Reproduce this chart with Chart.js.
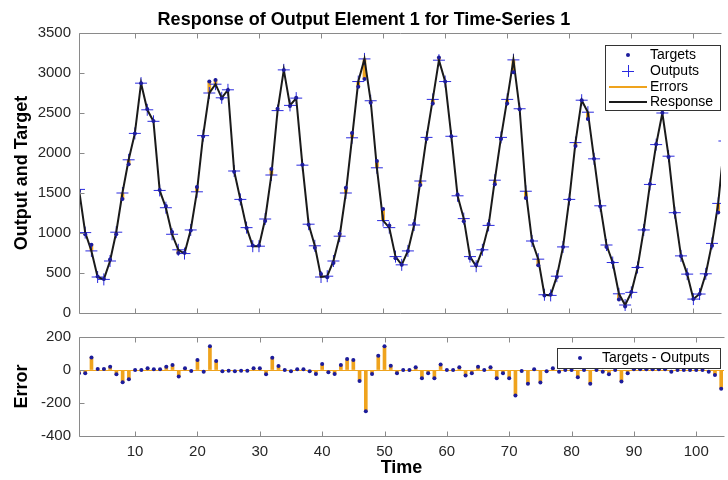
<!DOCTYPE html>
<html>
<head>
<meta charset="utf-8">
<script src="https://cdn.jsdelivr.net/npm/chart.js@4.4.0/dist/chart.umd.min.js"></script>
<style>
html,body{margin:0;padding:0;background:#fff;}
#wrap{position:relative;width:728px;height:480px;overflow:hidden;background:#fff;}
#c1{position:absolute;left:0;top:0;}
#c2{position:absolute;left:0;top:320px;}
</style>
</head>
<body>
<div id="wrap">
<canvas id="c1" width="728" height="330"></canvas>
<canvas id="c2" width="728" height="160"></canvas>
</div>
<script>
const timeSteps = [1,2,3,4,5,6,7,8,9,10,11,12,13,14,15,16,17,18,19,20,21,22,23,24,25,26,27,28,29,30,31,32,33,34,35,36,37,38,39,40,41,42,43,44,45,46,47,48,49,50,51,52,53,54,55,56,57,58,59,60,61,62,63,64,65,66,67,68,69,70,71,72,73,74,75,76,77,78,79,80,81,82,83,84,85,86,87,88,89,90,91,92,93,94,95,96,97,98,99,100,101,102,103,104,105];
const outputs = [1545,1005,776,450,420,650,1010,1500,1915,2245,2873,2540,2396,1532,1316,984,790,743,1038,1515,2217,2750,2860,2690,2790,1775,1420,1067,835,835,1175,1725,2530,3039,2595,2686,1848,1110,840,450,460,650,960,1500,2190,2893,3176,2653,1815,1155,1067,705,602,776,1100,1650,2195,2670,3160,2893,2209,1465,1180,705,585,790,1095,1660,2195,2670,3164,2553,1522,900,673,228,220,460,826,1420,2130,2660,2510,1927,1340,850,631,240,100,258,569,1038,1607,2105,2500,1960,1254,714,486,174,237,490,870,1370,2150];
const targets = [1525,985,852,456,426,670,984,1426,1859,2245,2873,2550,2400,1536,1336,1014,750,753,1032,1575,2207,2894,2914,2682,2786,1767,1416,1063,845,845,1149,1799,2554,3039,2587,2690,1852,1102,816,486,446,626,990,1566,2250,2827,2926,2629,1901,1299,1093,685,602,776,1116,1600,2175,2620,3194,2893,2209,1481,1146,685,605,790,1111,1610,2175,2620,3010,2547,1438,904,597,220,230,450,826,1420,2086,2660,2426,1927,1330,824,631,170,80,262,573,1042,1611,2109,2504,1950,1254,714,486,174,237,480,840,1256,2150];
const errors = [-20,-20,76,6,6,20,-26,-74,-56,0,0,10,4,4,20,30,-40,10,-6,60,-10,144,54,-8,-4,-8,-4,-4,10,10,-26,74,24,0,-8,4,4,-8,-24,36,-14,-24,30,66,60,-66,-250,-24,86,144,26,-20,0,0,16,-50,-20,-50,34,0,0,16,-34,-20,20,0,16,-50,-20,-50,-154,-6,-84,4,-76,-8,10,-10,0,0,-44,0,-84,0,-10,-26,0,-70,-20,4,4,4,4,4,4,-10,0,0,0,0,0,-10,-30,-114,0];
const xTickValues = [10,20,30,40,50,60,70,80,90,100];
const topYTicks = [0,500,1000,1500,2000,2500,3000,3500];
const bottomYTicks = [-400,-200,0,200];

const FONT = "'Liberation Sans', Arial, Helvetica, sans-serif";
const DOT_BLUE = '#1c1c9c';
const PLUS_BLUE = '#2a2ae0';
const ORANGE = '#efa31d';
const LINE_BLACK = '#1a1a1a';
const BOX_GRAY = '#8a8a8a';
const TICK_TEXT = '#262626';

const matlabBox = {
  id: 'matlabBox',
  afterDraw(chart, args, opts) {
    const {ctx, chartArea: a, scales} = chart;
    ctx.save();
    ctx.strokeStyle = opts.color;
    ctx.lineWidth = 1;
    const L = Math.round(a.left) + 0.5, T = Math.round(a.top) + 0.5;
    const B = Math.round(a.bottom) + 0.5, R = Math.round(a.right) + 0.5;
    ctx.beginPath();
    ctx.moveTo(L, B); ctx.lineTo(L, T); ctx.lineTo(R, T);
    ctx.moveTo(L, B); ctx.lineTo(R, B);
    opts.xTicks.forEach(v => {
      const px = Math.round(scales.x.getPixelForValue(v)) + 0.5;
      ctx.moveTo(px, T); ctx.lineTo(px, T + 5);
      ctx.moveTo(px, B); ctx.lineTo(px, B - 5);
    });
    opts.yTicks.forEach(v => {
      const py = Math.round(scales.y.getPixelForValue(v)) + 0.5;
      ctx.moveTo(L, py); ctx.lineTo(L + 5, py);
    });
    ctx.stroke();
    ctx.restore();
  }
};

const boxLegend = {
  id: 'boxLegend',
  afterDraw(chart, args, opts) {
    const ctx = chart.ctx;
    ctx.save();
    ctx.fillStyle = '#fff';
    ctx.fillRect(opts.x, opts.y, opts.w, opts.h);
    ctx.strokeStyle = '#333';
    ctx.lineWidth = 1;
    ctx.strokeRect(opts.x + 0.5, opts.y + 0.5, opts.w, opts.h);
    ctx.font = '14px ' + FONT;
    ctx.textBaseline = 'middle';
    ctx.textAlign = 'left';
    opts.items.forEach(it => {
      const ds = chart.data.datasets[it.ds];
      if (it.kind === 'dot') {
        ctx.fillStyle = DOT_BLUE;
        ctx.beginPath(); ctx.arc(it.mx, it.y, 2, 0, Math.PI * 2); ctx.fill();
      } else if (it.kind === 'plus') {
        ctx.strokeStyle = PLUS_BLUE; ctx.lineWidth = 1;
        ctx.beginPath();
        ctx.moveTo(it.mx - 6, it.y + 0.5); ctx.lineTo(it.mx + 6, it.y + 0.5);
        ctx.moveTo(it.mx + 0.5, it.y - 6); ctx.lineTo(it.mx + 0.5, it.y + 6);
        ctx.stroke();
      } else if (it.kind === 'line') {
        ctx.strokeStyle = it.color; ctx.lineWidth = 2;
        ctx.beginPath(); ctx.moveTo(it.x1, it.y); ctx.lineTo(it.x2, it.y); ctx.stroke();
      }
      ctx.fillStyle = '#000';
      ctx.fillText(ds.label, it.tx, it.y);
    });
    ctx.restore();
  }
};

const xy = (vals) => timeSteps.map((t, i) => ({x: t, y: vals[i]}));

new Chart(document.getElementById('c1'), {
  type: 'scatter',
  data: {
    datasets: [
      {type: 'scatter', label: 'Targets', data: xy(targets), pointStyle: 'circle', pointRadius: 2,
       backgroundColor: DOT_BLUE, borderColor: DOT_BLUE, borderWidth: 0, order: 0},
      {type: 'line', label: 'Response', data: xy(outputs), borderColor: LINE_BLACK, borderWidth: 2,
       pointRadius: 0, tension: 0, fill: false, order: 1},
      {type: 'scatter', label: 'Outputs', data: xy(outputs), pointStyle: 'cross', pointRadius: 6,
       borderColor: PLUS_BLUE, backgroundColor: PLUS_BLUE, borderWidth: 1, order: 2},
      {type: 'bar', label: 'Errors', data: timeSteps.map((t, i) => ({x: t, y: [outputs[i], targets[i]]})),
       backgroundColor: ORANGE, borderWidth: 0, barThickness: 3, order: 3}
    ]
  },
  options: {
    responsive: false,
    animation: false,
    layout: {padding: {left: 0, right: 0, top: 0, bottom: 16}},
    scales: {
      x: {type: 'linear', min: 1, max: 104.45, offset: false,
          ticks: {display: false},
          grid: {display: false, drawTicks: false, offset: false},
          border: {display: false},
          afterFit: s => { s.height = 0; }},
      y: {type: 'linear', min: 0, max: 3500,
          afterBuildTicks: s => { s.ticks = topYTicks.map(v => ({value: v})); },
          ticks: {callback: v => String(v), font: {family: FONT, size: 15}, color: TICK_TEXT, padding: 8},
          grid: {display: false, drawTicks: false},
          border: {display: false},
          title: {display: true, text: 'Output and Target', font: {family: FONT, size: 18, weight: 'bold'},
                  color: '#000', padding: {top: 11, bottom: 0}},
          afterFit: s => { s.width = 79; }}
    },
    plugins: {
      title: {display: true, text: 'Response of Output Element 1 for Time-Series 1',
              font: {family: FONT, size: 18, weight: 'bold'}, color: '#000', padding: {top: 9, bottom: 2.4}},
      legend: {display: false},
      tooltip: {enabled: false},
      matlabBox: {color: BOX_GRAY, xTicks: xTickValues, yTicks: topYTicks},
      boxLegend: {x: 605, y: 45, w: 115, h: 65, items: [
        {ds: 0, kind: 'dot', mx: 628, tx: 650, y: 55},
        {ds: 2, kind: 'plus', mx: 628, tx: 650, y: 71},
        {ds: 3, kind: 'line', x1: 609, x2: 647, color: ORANGE, tx: 650, y: 87},
        {ds: 1, kind: 'line', x1: 609, x2: 647, color: LINE_BLACK, tx: 650, y: 102}
      ]}
    }
  },
  plugins: [matlabBox, boxLegend]
});

new Chart(document.getElementById('c2'), {
  type: 'scatter',
  data: {
    datasets: [
      {type: 'scatter', label: 'Targets - Outputs', data: xy(errors), pointStyle: 'circle', pointRadius: 2,
       backgroundColor: DOT_BLUE, borderColor: DOT_BLUE, borderWidth: 0, order: 0},
      {type: 'bar', label: 'Errors', data: xy(errors), backgroundColor: ORANGE, borderWidth: 0,
       barThickness: 3, order: 1}
    ]
  },
  options: {
    responsive: false,
    animation: false,
    layout: {padding: {left: 0, right: 0, top: 15, bottom: 0}},
    scales: {
      x: {type: 'linear', min: 1, max: 104.45, offset: false,
          afterBuildTicks: s => { s.ticks = xTickValues.map(v => ({value: v})); },
          ticks: {callback: v => String(v), font: {family: FONT, size: 15}, color: TICK_TEXT, padding: 7,
                  maxRotation: 0, autoSkip: false},
          grid: {display: false, drawTicks: false, offset: false},
          border: {display: false},
          title: {display: true, text: 'Time', font: {family: FONT, size: 18, weight: 'bold'},
                  color: '#000', padding: {top: 0, bottom: 1}},
          afterFit: s => { s.height = 44; }},
      y: {type: 'linear', min: -400, max: 200,
          afterBuildTicks: s => { s.ticks = bottomYTicks.map(v => ({value: v})); },
          ticks: {callback: v => String(v), font: {family: FONT, size: 15}, color: TICK_TEXT, padding: 8},
          grid: {display: true, drawOnChartArea: true, drawTicks: false, lineWidth: 1,
                 color: c => (c.tick && c.tick.value === 0) ? ORANGE : 'rgba(0,0,0,0)'},
          border: {display: false},
          title: {display: true, text: 'Error', font: {family: FONT, size: 18, weight: 'bold'},
                  color: '#000', padding: {top: 11, bottom: 0}},
          afterFit: s => { s.width = 79; }}
    },
    plugins: {
      title: {display: false},
      legend: {display: false},
      tooltip: {enabled: false},
      matlabBox: {color: BOX_GRAY, xTicks: xTickValues, yTicks: bottomYTicks},
      boxLegend: {x: 557, y: 28, w: 163, h: 20, items: [
        {ds: 0, kind: 'dot', mx: 580, tx: 602, y: 38}
      ]}
    }
  },
  plugins: [matlabBox, boxLegend]
});
</script>
</body>
</html>
